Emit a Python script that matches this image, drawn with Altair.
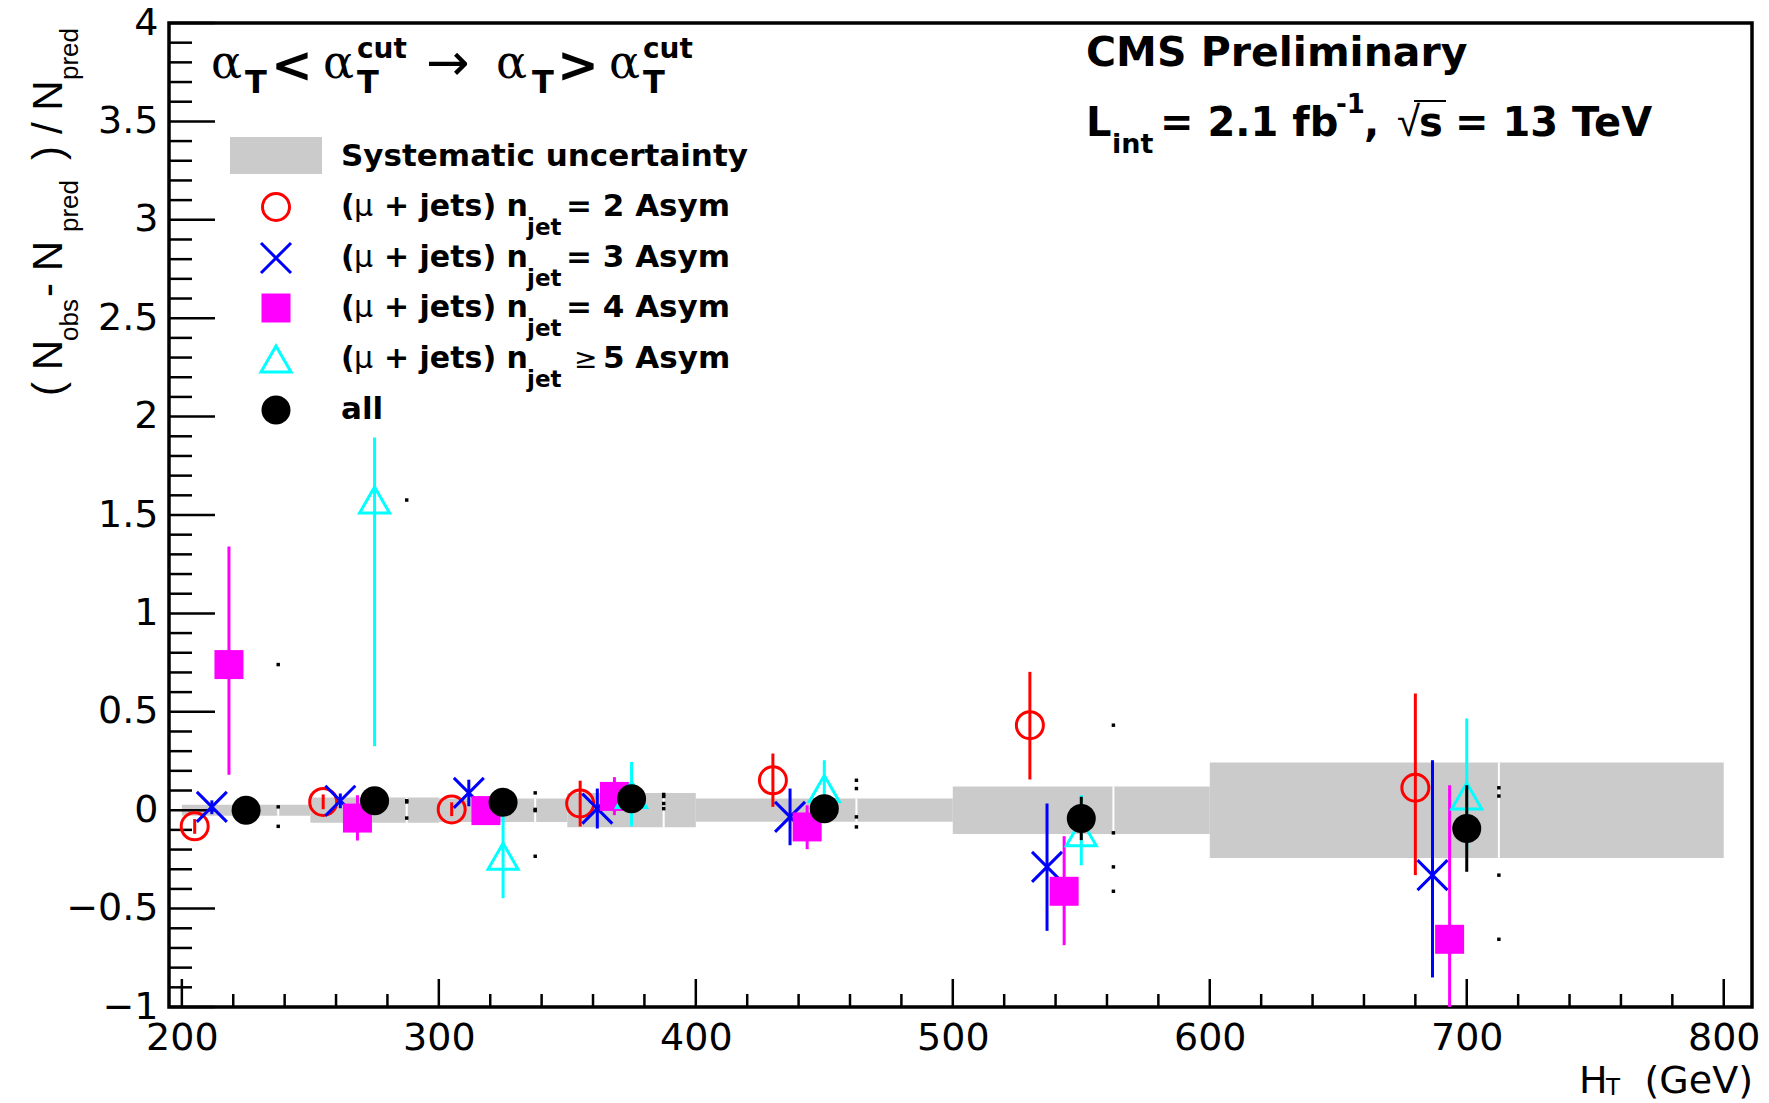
import altair as alt
import numpy as np
import pandas as pd

# HT binning used for the closure test
bin_edges = [200, 250, 300, 350, 400, 500, 600, 800]
bin_centers = [225, 275, 325, 375, 450, 550, 700]

# half-width of the systematic-uncertainty band in each HT bin
syst_half = [0.028, 0.064, 0.060, 0.087, 0.059, 0.121, 0.243]

# (N_obs - N_pred) / N_pred per bin, with upper and lower error-bar ends
nj2_val = [-0.082, 0.042, 0.004, 0.034, 0.152, 0.432, 0.114]
nj2_up = [-0.045, 0.080, 0.040, 0.150, 0.288, 0.703, 0.593]
nj2_dn = [-0.120, 0.005, -0.030, -0.083, 0.017, 0.156, -0.330]

nj3_val = [0.017, 0.048, 0.088, 0.008, -0.034, -0.288, -0.330]
nj3_up = [0.050, 0.085, 0.155, 0.110, 0.110, 0.034, 0.254]
nj3_dn = [-0.020, 0.010, 0.020, -0.093, -0.178, -0.613, -0.850]

nj4_val = [0.740, -0.040, -0.002, 0.070, -0.085, -0.412, -0.656]
nj4_up = [1.340, 0.076, 0.030, 0.168, 0.025, -0.132, 0.127]
nj4_dn = [0.180, -0.154, -0.035, -0.025, -0.198, -0.686, -1.400]

nj5_val = [np.nan, 1.576, -0.234, 0.080, 0.110, -0.115, 0.072]
nj5_up = [np.nan, 1.894, -0.030, 0.245, 0.254, 0.076, 0.466]
nj5_dn = [np.nan, 0.325, -0.447, -0.082, 0.000, -0.280, -0.200]

all_val = [0.000, 0.048, 0.040, 0.058, 0.008, -0.042, -0.093]
all_up = [0.030, 0.078, 0.070, 0.088, 0.040, 0.068, 0.127]
all_dn = [-0.030, 0.018, 0.010, 0.028, -0.025, -0.152, -0.313]

# horizontal shift of each series inside a bin, and of the marker-dot column
series_shift = {"nj2": -20.0, "nj3": -13.33, "nj4": -6.67, "nj5": 0.0, "all": 0.0}
dot_shift = 12.5

series_data = {
    "nj2": (nj2_val, nj2_up, nj2_dn),
    "nj3": (nj3_val, nj3_up, nj3_dn),
    "nj4": (nj4_val, nj4_up, nj4_dn),
    "nj5": (nj5_val, nj5_up, nj5_dn),
    "all": (all_val, all_up, all_dn),
}

# ---------------------------------------------------------------- geometry
W, H = 1583, 984          # plot frame
LEFT, TOP = 169, 23       # frame offset inside the 1769x1103 page
SANS = "DejaVu Sans"
HELV = "Liberation Sans"
SERIF = "DejaVu Serif"

x_scale = alt.Scale(domain=[195, 811], nice=False, zero=False)
y_scale = alt.Scale(domain=[-1, 4], nice=False, zero=False)
x_axis = alt.Axis(values=list(range(200, 801, 100)), format="d", ticks=False, tickSize=0,
                  domain=False, grid=False, labelPadding=12, labelFont=SANS, labelFontSize=38,
                  labelColor="black", labelOverlap=False, labelFlush=False, labelBound=False)
y_axis = alt.Axis(values=[float(v) for v in np.round(np.arange(-1, 4.01, 0.5), 2)], format="~g",
                  ticks=False, tickSize=0, domain=False, grid=False, labelPadding=11,
                  labelFont=SANS, labelFontSize=38, labelColor="black",
                  labelOverlap=False, labelFlush=False, labelBound=False)


def X(field):
    return alt.X(f"{field}:Q", scale=x_scale, axis=x_axis, title=None)


def Y(field):
    return alt.Y(f"{field}:Q", scale=y_scale, axis=y_axis, title=None)


def px(x):
    return alt.value(x - LEFT)


def py(y):
    return alt.value(y - TOP)


one = pd.DataFrame({"k": [0]})

layers = []

# systematic band
band = pd.DataFrame({
    "lo_edge": bin_edges[:-1], "hi_edge": bin_edges[1:],
    "lo": [-h for h in syst_half], "hi": syst_half,
    "gap": [c + dot_shift for c in bin_centers],
})
layers.append(alt.Chart(band).mark_rect(color="#cbcbcb").encode(
    x=X("lo_edge"), x2="hi_edge", y=Y("lo"), y2="hi"))
layers.append(alt.Chart(band).mark_rule(color="white", strokeWidth=2).encode(
    x=X("gap"), y=Y("lo"), y2="hi"))

# frame ticks
x_major = pd.DataFrame({"t": list(range(200, 801, 100))})
x_minor = pd.DataFrame({"t": [v for v in range(200, 801, 20) if v % 100]})
yv = np.round(np.arange(-1, 4.001, 0.1), 2)
y_major = pd.DataFrame({"t": [float(v) for v in yv if abs(v * 2 - round(v * 2)) < 1e-6]})
y_minor = pd.DataFrame({"t": [float(v) for v in yv if abs(v * 2 - round(v * 2)) > 1e-6]})
layers.append(alt.Chart(x_major).mark_rule(color="black", strokeWidth=2.5).encode(
    x=X("t"), y=alt.value(H), y2=alt.value(H - 28)))
layers.append(alt.Chart(x_minor).mark_rule(color="black", strokeWidth=2.5).encode(
    x=X("t"), y=alt.value(H), y2=alt.value(H - 13)))
layers.append(alt.Chart(y_major).mark_rule(color="black", strokeWidth=2.5).encode(
    y=Y("t"), x=alt.value(0), x2=alt.value(46)))
layers.append(alt.Chart(y_minor).mark_rule(color="black", strokeWidth=2.5).encode(
    y=Y("t"), x=alt.value(0), x2=alt.value(23)))

# marker styles per series
CROSS = "M-1,-1L1,1M-1,1L1,-1"
styles = {
    "nj2": dict(color="#ff0000", shape="circle", filled=False, size=729),
    "nj3": dict(color="#0000ff", shape=CROSS, filled=False, size=900),
    "nj4": dict(color="#ff00ff", shape="square", filled=True, size=841),
    "nj5": dict(color="#00ffff", shape="triangle-up", filled=False, size=900),
    "all": dict(color="#000000", shape="circle", filled=True, size=841),
}

dot_rows = []
for name, (vals, ups, dns) in series_data.items():
    rows = []
    for c, v, u, d in zip(bin_centers, vals, ups, dns):
        if np.isnan(v):
            continue
        rows.append({"ht": c + series_shift[name], "val": v, "hi": u, "lo": d})
        if name != "all":
            dot_rows.append({"ht": c + dot_shift, "val": v})
    df = pd.DataFrame(rows)
    st = styles[name]
    layers.append(alt.Chart(df).mark_rule(color=st["color"], strokeWidth=3, clip=True).encode(
        x=X("ht"), y=Y("lo"), y2="hi"))
    layers.append(alt.Chart(df).mark_point(
        shape=st["shape"], filled=st["filled"], size=st["size"], color=st["color"],
        strokeWidth=3, opacity=1, clip=True).encode(x=X("ht"), y=Y("val")))

layers.append(alt.Chart(pd.DataFrame(dot_rows)).mark_point(
    shape="square", filled=True, size=12, color="black", opacity=1).encode(
    x=X("ht"), y=Y("val")))


def text(s, x, y, size, font=SANS, weight="bold", align="left", angle=0):
    kw = dict(text=s, font=font, fontSize=size, fontWeight=weight, align=align,
              baseline="alphabetic", color="black")
    if angle:
        kw["angle"] = angle
    return alt.Chart(one).mark_text(**kw).encode(x=px(x), y=py(y))


# legend
layers.append(alt.Chart(one).mark_rect(color="#cbcbcb").encode(
    x=px(230), x2=px(322), y=py(137), y2=py(174)))
layers.append(text("Systematic uncertainty", 341, 166, 31))
legend_y = {"nj2": 207, "nj3": 258, "nj4": 308, "nj5": 359, "all": 410}
for name, ly in legend_y.items():
    st = styles[name]
    layers.append(alt.Chart(one).mark_point(
        shape=st["shape"], filled=st["filled"], size=st["size"], color=st["color"],
        strokeWidth=3, opacity=1).encode(x=px(276), y=py(ly)))
for ly, tail in [(207, "= 2 Asym"), (258, "= 3 Asym"), (308, "= 4 Asym"), (359, None)]:
    base = ly + 9
    layers.append(text("(", 341, base, 30))
    layers.append(text("μ", 354, base, 30, weight="normal"))
    layers.append(text("+ jets) n", 384, base, 30))
    layers.append(text("jet", 527, base + 19, 23))
    if tail:
        layers.append(text(tail, 566, base, 31))
    else:
        layers.append(text("≥", 574, base, 28, weight="normal"))
        layers.append(text("5 Asym", 603, base, 31))
layers.append(text("all", 341, 419, 31))

# selection annotation: alpha_T < alpha_T^cut -> alpha_T > alpha_T^cut
for ax_, tx, cx in [(211, 245, None), (323, 357, 357), (496, 532, None), (609, 643, 643)]:
    layers.append(text("α", ax_, 78, 46, font=SERIF, weight="normal"))
    layers.append(text("T", tx, 93, 32))
    if cx:
        layers.append(text("cut", cx, 58, 28))
layers.append(text("<", 271, 82, 50))
layers.append(text(">", 557, 82, 50))
layers.append(text("→", 426, 80, 52, weight="normal"))

# experiment label
layers.append(text("CMS Preliminary", 1086, 66, 41))
layers.append(text("L", 1086, 136, 40))
layers.append(text("int", 1112, 153, 27))
layers.append(text("= 2.1 fb", 1160, 136, 40))
layers.append(text("-1", 1336, 113, 26))
layers.append(text(",", 1364, 136, 40))
layers.append(text("√", 1397, 136, 42, font=HELV, weight="normal"))
layers.append(text("s", 1419, 136, 40))
layers.append(alt.Chart(one).mark_rule(color="black", strokeWidth=2).encode(
    x=px(1414), x2=px(1446), y=py(101)))
layers.append(text("= 13 TeV", 1455, 136, 40))

# x-axis title
layers.append(text("H", 1579, 1093, 38, weight="normal"))
layers.append(text("T", 1606, 1095, 23, weight="normal"))
layers.append(text("(GeV)", 1753, 1093, 38, weight="normal", align="right"))

# y-axis title, read bottom to top
for s, y0, sub in [("( N", 396, False), ("obs", 341, True), (" - N", 297, False),
                   ("pred", 232, True), (")", 160, False), ("/ N", 134, False),
                   ("pred", 80, True)]:
    if sub:
        layers.append(text(s, 78, y0, 26, font=HELV, weight="normal", angle=270))
    else:
        layers.append(text(s, 62, y0, 42, font=HELV, weight="normal", angle=270))

chart = alt.layer(*layers).properties(
    width=W, height=H,
    autosize=alt.AutoSizeParams(type="none"),
    padding={"left": LEFT, "top": TOP, "right": 1769 - LEFT - W, "bottom": 1103 - TOP - H},
    background="white",
).configure_view(stroke="black", strokeWidth=3.5)

chart.save("out.html", embed_options={"renderer": "svg", "actions": False})
